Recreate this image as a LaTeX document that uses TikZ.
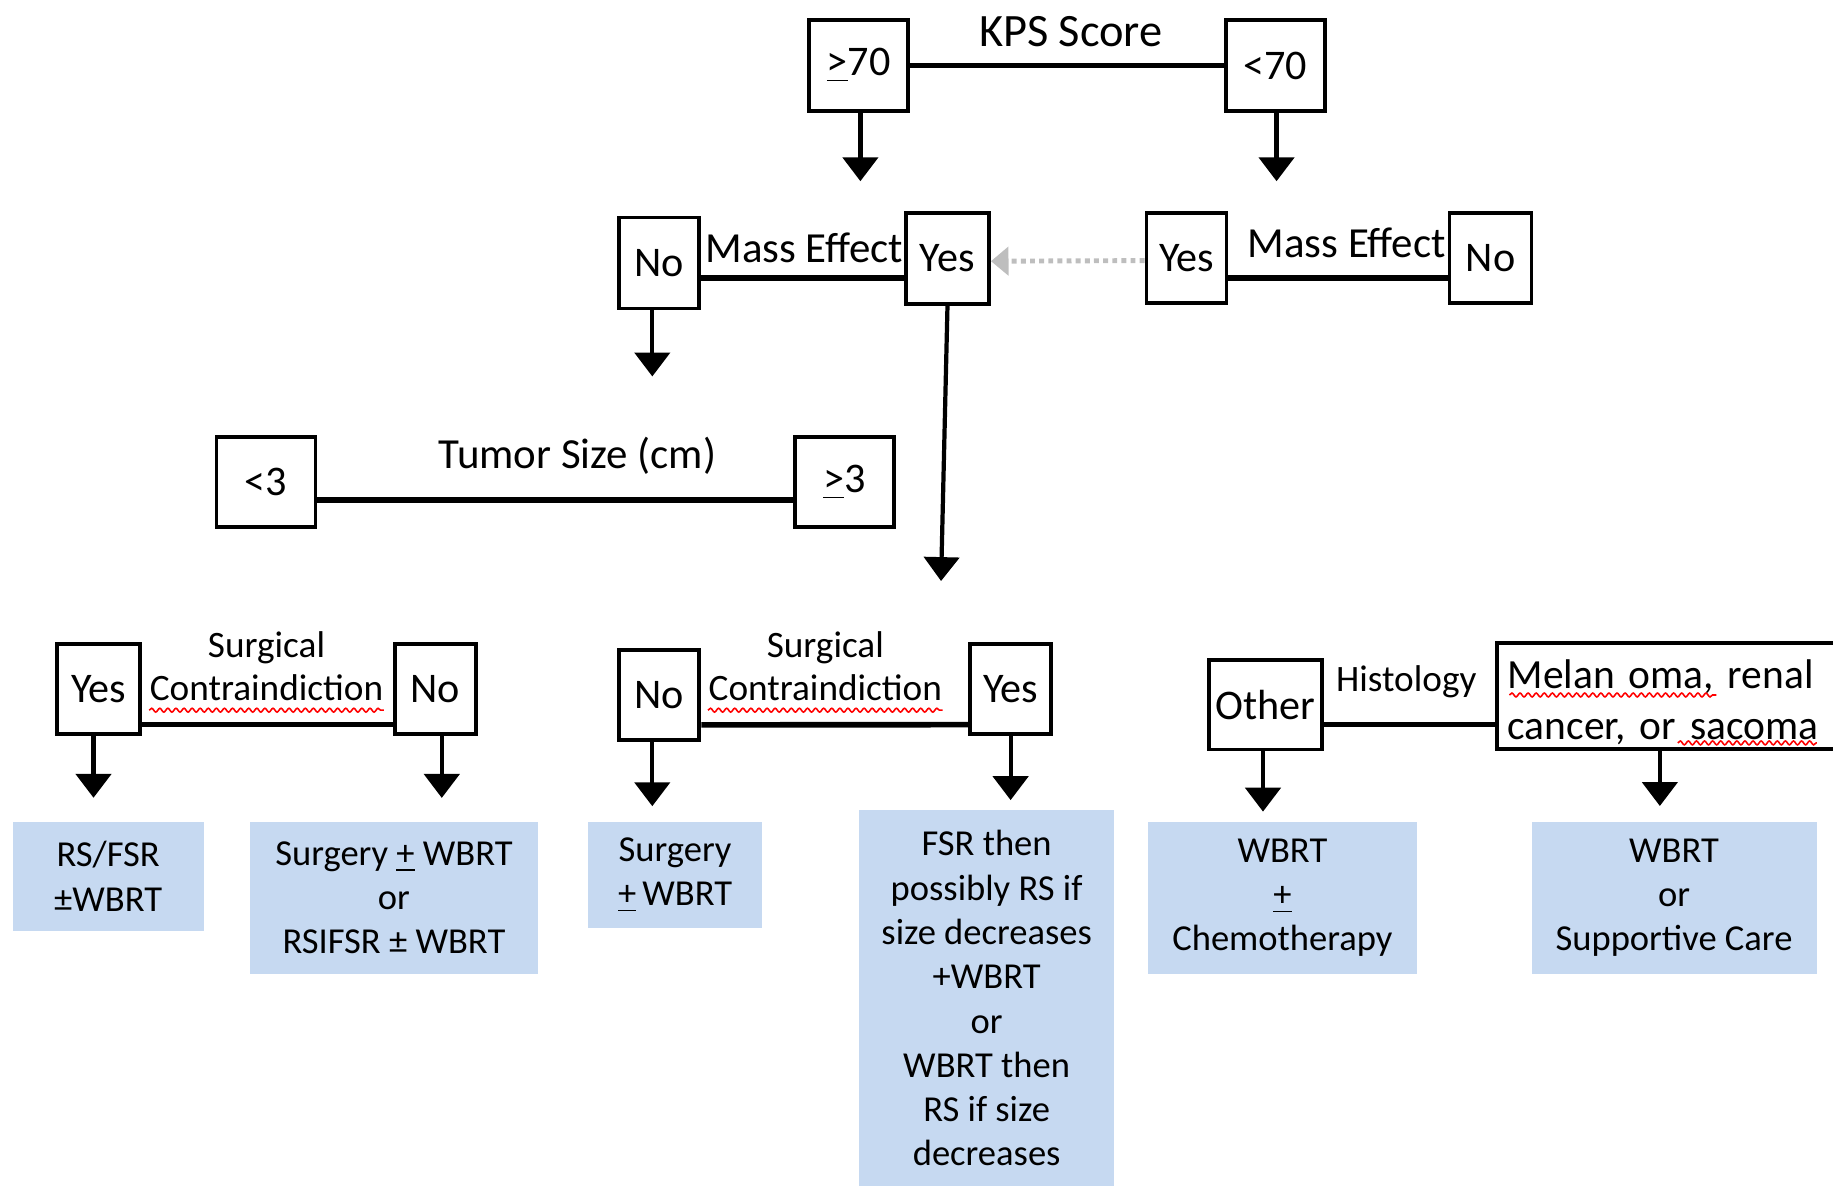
\documentclass[tikz,border=0pt]{standalone}
\usepackage{fontspec}
\setmainfont{Carlito}
\usetikzlibrary{arrows.meta,decorations.pathmorphing}
\definecolor{txblue}{RGB}{198,217,241}
\definecolor{dotgray}{RGB}{190,190,190}
\tikzset{
  ans/.style 2 args = { draw, line width=1.1pt, inner sep=0pt, minimum width=#1,
                        minimum height=#2, font=\fontsize{12}{14}\selectfont },
  lbl/.style    = { inner sep=0pt, align=center, font=\fontsize{12.2}{14}\selectfont },
  sublbl/.style = { inner sep=0pt, align=center, font=\fontsize{10.6}{12.3}\selectfont },
  plan/.style 2 args = { fill=txblue, inner sep=0pt, align=center, minimum width=#1,
                         minimum height=#2, font=\fontsize{10.4}{12.6}\selectfont },
  bar/.style    = { line width=1.6pt },
  down/.style   = { line width=1.2pt, -{Triangle[width=10pt,length=6.8pt]} },
  jump/.style   = { dotgray, line width=1.4pt, dash pattern=on 1.4pt off 1.2pt,
                    -{Triangle[width=8pt,length=5pt]} },
  spell/.style  = { red, line width=0.45pt, decorate,
                    decoration={snake, amplitude=0.55pt, segment length=2.3pt} }
}
\begin{document}
\begin{tikzpicture}[x=0.01169cm, y=-0.01169cm]
  \useasboundingbox (0,0) rectangle (1568,1014);
  % KPS score
  \node[ans={0.99cm}{0.91cm}] (kpsHi) at (734.5,56) {\underline{>}70};
  \node[ans={0.99cm}{0.91cm}] (kpsLo) at (1091,56) {<70};
  \node[lbl, font=\fontsize{13.2}{15}\selectfont] (kps) at (916,27) {KPS Score};
  \draw[bar] (kpsHi) -- (kpsLo);
  \coordinate (kpsHiTip) at (736,155);
  \coordinate (kpsLoTip) at (1092,155);
  \draw[down] (kpsHi.south -| kpsHiTip) -- (kpsHiTip);
  \draw[down] (kpsLo.south -| kpsLoTip) -- (kpsLoTip);

  % mass effect
  \node[ans={0.8cm}{0.91cm}] (massHiNo) at (564,225) {No};
  \node[ans={0.83cm}{0.91cm}] (massHiYes) at (810.5,221) {Yes};
  \node[lbl] (massHi) at (688,212) {Mass Effect};
  \draw[bar] ([yshift=-4.3pt]massHiNo.east) -- ([yshift=-4.3pt]massHiNo.east -| massHiYes.west);
  \node[ans={0.8cm}{0.9cm}] (massLoYes) at (1015,220.5) {Yes};
  \node[ans={0.82cm}{0.9cm}] (massLoNo) at (1275,220.5) {No};
  \node[lbl] (massLo) at (1152,208) {Mass Effect};
  \draw[bar] ([yshift=-5.8pt]massLoYes.east) -- ([yshift=-5.8pt]massLoNo.west);
  \draw[jump] ([yshift=-0.8pt]massLoYes.west) -- ([yshift=-0.8pt]massHiYes.east);
  \coordinate (massHiNoTip) at (558,322);
  \draw[down] (massHiNo.south -| massHiNoTip) -- (massHiNoTip);
  \coordinate (massHiYesTip) at (805,497);
  \draw[down] (massHiYes.south) -- (massHiYesTip);

  % tumor size
  \node[ans={0.99cm}{0.9cm}] (sizeLt) at (227.5,412.5) {<3};
  \node[ans={0.99cm}{0.9cm}] (sizeGe) at (722.5,412.5) {\underline{>}3};
  \node[lbl] (size) at (494,390) {Tumor Size (cm)};
  \draw[bar] ([yshift=-5.1pt]sizeLt.east) -- ([yshift=-5.1pt]sizeGe.west);

  % surgical contraindication
  \node[ans={0.83cm}{0.9cm}] (contraSmYes) at (84.5,589.5) {Yes};
  \node[ans={0.81cm}{0.9cm}] (contraSmNo) at (372.5,589.5) {No};
  \node[sublbl] (contraSm) at (228,570) {Surgical\\Contraindiction};
  \draw[spell] ([yshift=-2.4pt]contraSm.south west) -- ([yshift=-2.4pt]contraSm.south east);
  \draw[bar] ([yshift=-10.1pt]contraSmYes.east) -- ([yshift=-10.1pt]contraSmNo.west);
  \node[ans={0.8cm}{0.9cm}] (contraLgNo) at (564,594.5) {No};
  \node[ans={0.81cm}{0.9cm}] (contraLgYes) at (864.5,589.5) {Yes};
  \node[sublbl] (contraLg) at (706,570) {Surgical\\Contraindiction};
  \draw[spell] ([yshift=-2.4pt]contraLg.south west) -- ([yshift=-2.4pt]contraLg.south east);
  \draw[bar] ([yshift=-8.5pt]contraLgNo.east) -- ([yshift=-10.1pt]contraLgYes.west);

  % histology
  \node[ans={1.13cm}{0.89cm}] (histOther) at (1082.5,603) {Other};
  \node[ans={3.44cm}{1.06cm}] (histMel) at (1428,595.5) {};
  \node[inner sep=0pt, text width=3.22cm, align=left, anchor=west,
        font=\fontsize{11.8}{14.6}\selectfont] (histMelTx) at ([shift={(10,5)}]histMel.west)
        {Melan oma, renal\\cancer, or sacoma};
  \draw[spell] ([shift={(12,-1)}]histMel.west) -- ([shift={(189,-1)}]histMel.west);
  \draw[spell] ([shift={(156,40)}]histMel.west) -- ([shift={(275,40)}]histMel.west);
  \node[sublbl] (hist) at (1203,583) {Histology};
  \draw[bar] ([yshift=-5.6pt]histOther.east) -- ([yshift=-5.6pt]histOther.east -| histMel.west);

  % treatment
  \node[plan={1.91cm}{1.09cm}] (rsFsr) at (92.5,749.5) {RS/FSR\\±WBRT};
  \node[plan={2.88cm}{1.52cm}] (surgRs) at (337,768) {Surgery \underline{+} WBRT\\or\\RSIFSR ± WBRT};
  \node[plan={1.74cm}{1.06cm}] (surg) at (577.5,748.5) {Surgery\\\underline{+}\,WBRT};
  \node[plan={2.55cm}{3.76cm}] (fsr) at (844,854)
        {FSR then\\possibly RS if\\size decreases\\+WBRT\\or\\WBRT then\\RS if size\\decreases};
  \node[plan={2.69cm}{1.52cm}] (chemo) at (1097,768) {WBRT\\\underline{+}\\Chemotherapy};
  \node[plan={2.85cm}{1.52cm}] (care) at (1432,768) {WBRT\\or\\Supportive Care};
  \draw[down, shorten >=6.6pt] ([xshift=-1.5pt]contraSmYes.south) -- ([xshift=-1.5pt]contraSmYes.south |- rsFsr.north);
  \draw[down, shorten >=6.6pt] ([xshift=1.8pt]contraSmNo.south) -- ([xshift=1.8pt]contraSmNo.south |- surgRs.north);
  \draw[down, shorten >=4.3pt] ([xshift=-2pt]contraLgNo.south) -- ([xshift=-2pt]contraLgNo.south |- surg.north);
  \draw[down, shorten >=2.7pt] (contraLgYes.south) -- (contraLgYes.south |- fsr.north);
  \draw[down, shorten >=2.7pt] ([xshift=-0.7pt]histOther.south) -- ([xshift=-0.7pt]histOther.south |- chemo.north);
  \draw[down, shorten >=4.3pt] ([xshift=-2.7pt]histMel.south) -- ([xshift=-2.7pt]histMel.south |- care.north);
\end{tikzpicture}
\end{document}
